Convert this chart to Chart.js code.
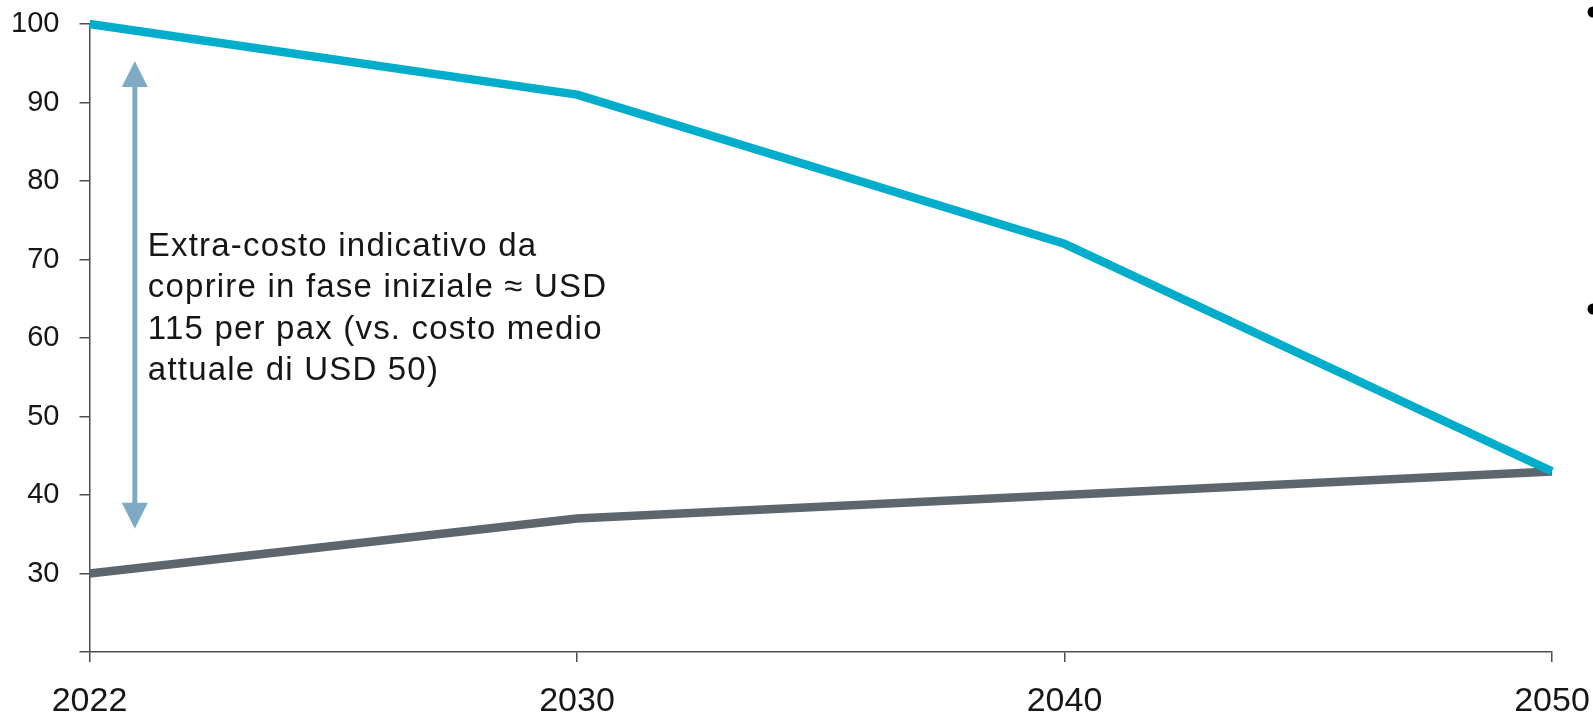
<!DOCTYPE html>
<html>
<head>
<meta charset="utf-8">
<script src="https://cdn.jsdelivr.net/npm/chart.js@4"></script>
<style>
  html, body { margin: 0; padding: 0; background: #fff; }
  #wrap { width: 1593px; height: 716px; position: relative; }
</style>
</head>
<body>
<div id="wrap"><canvas id="cost-chart"></canvas></div>
<script>
const years = ['2022', '2030', '2040', '2050'];
const costSaf = [100, 91, 72, 43];
const costFossil = [30, 37, 40, 43];
const yTicks = [20, 30, 40, 50, 60, 70, 80, 90, 100];

// range covered by the double arrow (same units as the y axis)
const gapTop = 95.3;
const gapBottom = 35.7;
const noteLines = [
  'Extra-costo indicativo da',
  'coprire in fase iniziale \u2248 USD',
  '115 per pax (vs. costo medio',
  'attuale di USD 50)'
];

const FONT = '"Liberation Sans", Arial, sans-serif';

// double arrow + note text, plus the two cut-off bullets on the right edge
const notePlugin = {
  id: 'note',
  afterDatasetsDraw(chart) {
    const { ctx, scales } = chart;
    const x = scales.x.getPixelForValue(0.093);
    const yTop = scales.y.getPixelForValue(gapTop);
    const yBot = scales.y.getPixelForValue(gapBottom);
    const head = 26;
    ctx.save();
    ctx.fillStyle = '#7faac4';
    ctx.strokeStyle = '#7faac4';
    ctx.lineWidth = 5;
    ctx.beginPath();
    ctx.moveTo(x, yTop + head - 2);
    ctx.lineTo(x, yBot - head + 2);
    ctx.stroke();
    ctx.beginPath();
    ctx.moveTo(x, yTop);
    ctx.lineTo(x - 13, yTop + head);
    ctx.lineTo(x + 13, yTop + head);
    ctx.closePath();
    ctx.fill();
    ctx.beginPath();
    ctx.moveTo(x, yBot);
    ctx.lineTo(x - 13, yBot - head);
    ctx.lineTo(x + 13, yBot - head);
    ctx.closePath();
    ctx.fill();

    ctx.fillStyle = '#161616';
    ctx.font = '33px ' + FONT;
    ctx.letterSpacing = '1.2px';
    ctx.textBaseline = 'alphabetic';
    ctx.textAlign = 'left';
    noteLines.forEach((line, i) => {
      ctx.fillText(line, x + 13, 256 + i * 41.3);
    });
    ctx.letterSpacing = '0px';

    ctx.fillStyle = '#000';
    [12, 309].forEach(cy => {
      ctx.beginPath();
      ctx.arc(1593, cy, 5.5, 0, Math.PI * 2);
      ctx.fill();
    });
    ctx.restore();
  }
};

const ctx = document.getElementById('cost-chart').getContext('2d');
new Chart(ctx, {
  type: 'line',
  data: {
    labels: years,
    datasets: [
      {
        label: 'SAF',
        data: costSaf,
        borderColor: '#00adca',
        borderWidth: 8.5,
        pointRadius: 0,
        tension: 0,
        borderJoinStyle: 'round'
      },
      {
        label: 'Jet fuel',
        data: costFossil,
        borderColor: '#5d656d',
        borderWidth: 8.5,
        pointRadius: 0,
        tension: 0,
        borderJoinStyle: 'round'
      }
    ]
  },
  options: {
    responsive: true,
    maintainAspectRatio: false,
    animation: false,
    clip: false,
    layout: { padding: { top: 24, right: 41, left: 0, bottom: 0 } },
    plugins: {
      legend: { display: false },
      tooltip: { enabled: false }
    },
    scales: {
      x: {
        type: 'category',
        offset: false,
        border: { color: '#4d4d4d', width: 1.5 },
        grid: {
          drawOnChartArea: false,
          drawTicks: true,
          tickLength: 10,
          color: '#4d4d4d',
          lineWidth: 1.5
        },
        ticks: {
          color: '#161616',
          font: { family: FONT, size: 34 },
          padding: 19,
          maxRotation: 0
        },
        afterFit(axis) {
          axis.height = 64;
          axis.paddingLeft = 0;
          axis.paddingRight = 0;
        }
      },
      y: {
        min: 20,
        max: 100,
        afterBuildTicks(axis) {
          axis.ticks = yTicks.map(v => ({ value: v }));
        },
        border: { color: '#4d4d4d', width: 1.5 },
        grid: {
          drawOnChartArea: false,
          drawTicks: true,
          tickLength: 10,
          color: '#4d4d4d',
          lineWidth: 1.5
        },
        ticks: {
          color: '#161616',
          font: { family: FONT, size: 29 },
          padding: 20,
          callback: v => (v === 20 ? '' : v)
        },
        afterFit(axis) {
          axis.width = 89.5;
          axis.paddingTop = 0;
          axis.paddingBottom = 0;
        }
      }
    }
  },
  plugins: [notePlugin]
});
</script>
</body>
</html>
